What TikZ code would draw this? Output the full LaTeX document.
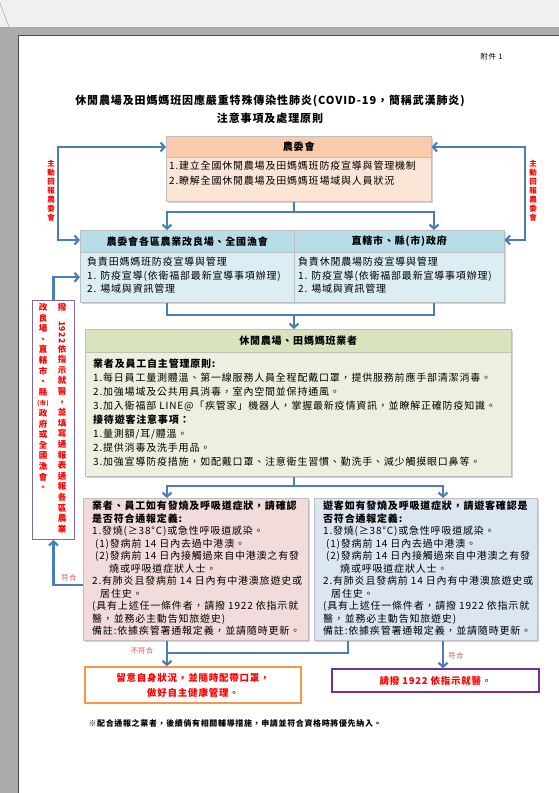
\documentclass[tikz,border=0pt]{standalone}
\usepackage{fontspec}
\setmainfont{Noto Sans CJK TC}[LetterSpace=8]
\usepackage{graphicx}
\usepackage{tikz}
\usetikzlibrary{arrows.meta,positioning,shadows}
\usepackage{xcolor}
\definecolor{flowblue}{HTML}{4A7EBB}
\definecolor{peachhead}{HTML}{F8CBAD}
\definecolor{peachbody}{HTML}{FBE5D6}
\definecolor{bluehead}{HTML}{B7DEE8}
\definecolor{bluebody}{HTML}{DAEEF3}
\definecolor{greenhead}{HTML}{D7E4BD}
\definecolor{greenbody}{HTML}{EBF1DE}
\definecolor{pinkbody}{HTML}{F2DCDB}
\definecolor{skybody}{HTML}{DCE6F2}
\definecolor{alertred}{HTML}{FF0000}
\definecolor{notered}{HTML}{C0504D}
\definecolor{reportedge}{HTML}{7F6A9E}
\definecolor{careedge}{HTML}{F79646}
\definecolor{calledge}{HTML}{7030A0}

\begin{document}
\begin{tikzpicture}[x=1pt, y=-1pt, >={Straight Barb[length=4pt,width=9pt]},
    panel/.style={rectangle, draw=black!25, line width=0.5pt, inner sep=0pt, anchor=north west,
        drop shadow={shadow xshift=1.8pt, shadow yshift=-1.8pt, fill=black!35}},
    band/.style={rectangle, draw=black!25, line width=0.5pt, inner sep=0pt, anchor=north west,
        font=\bfseries\fontsize{10}{12}\selectfont},
    txt/.style={anchor=north west, inner sep=0pt, align=left, font=\fontsize{10}{13.5}\selectfont},
    flow/.style={draw=flowblue, line width=2.2pt},
    vlabel/.style={align=center, inner sep=0pt, text=alertred, font=\bfseries\fontsize{7.5}{9}\selectfont},
    vtext/.style={anchor=north, align=center, inner sep=0pt, text=alertred, font=\bfseries\fontsize{8.5}{10.6}\selectfont},
    outcome/.style={rectangle, line width=1.5pt, fill=white, align=center, inner sep=0pt,
        text=alertred, font=\bfseries\fontsize{9.5}{15}\selectfont},
    cond/.style={inner sep=0pt, text=notered, font=\fontsize{7}{8}\selectfont}]

    \useasboundingbox (0,0) rectangle (559,793);
    \fill[black!6] (0,0) rectangle (559,27);
    \fill[black!33] (0,27) rectangle (559,35);
    \fill[black!33] (0,35) rectangle (18,793);
    \fill[white] (18,35) rectangle (559,793);
    \draw[black!70, line width=0.6pt] (18,793) -- (18,35) -- (559,35);
    \draw[black!35, line width=0.5pt] (0,3) -- (9,27);

    \node[font=\fontsize{7.5}{9}\selectfont, anchor=east] (annex) at (506,57) {附件 1};
    \node[font=\bfseries\fontsize{11}{18}\selectfont, align=center] (title) at (270,109)
        {休閒農場及田媽媽班因應嚴重特殊傳染性肺炎(COVID-19，簡稱武漢肺炎)\\注意事項及處理原則};

    \node[panel, fill=peachbody, minimum width=265, minimum height=65] (coa) at (166,136) {};
    \node[band, fill=peachhead, minimum width=265, minimum height=21] (coahead) at (coa.north west) {農委會};
    \node[txt, font=\fontsize{10}{15}\selectfont] (coatext) at (169,161)
        {1.建立全國休閒農場及田媽媽班防疫宣導與管理機制\\2.瞭解全國休閒農場及田媽媽班場域與人員狀況};

    \node[panel, fill=bluebody, minimum width=214, minimum height=72] (station) at (80,230) {};
    \node[panel, fill=bluebody, minimum width=210, minimum height=72] (gov) at (294,230) {};
    \node[band, fill=bluehead, minimum width=214, minimum height=22] (stationhead) at (station.north west) {農委會各區農業改良場、全國漁會};
    \node[band, fill=bluehead, minimum width=210, minimum height=22] (govhead) at (gov.north west) {直轄市、縣(市)政府};
    \node[txt] (stationtext) at (87,257)
        {負責田媽媽班防疫宣導與管理\\1. 防疫宣導(依衛福部最新宣導事項辦理)\\2. 場域與資訊管理};
    \node[txt] (govtext) at (298,257)
        {負責休閒農場防疫宣導與管理\\1. 防疫宣導(依衛福部最新宣導事項辦理)\\2. 場域與資訊管理};

    \node[panel, fill=greenbody, minimum width=426, minimum height=147] (farm) at (85,329) {};
    \node[band, fill=greenhead, minimum width=426, minimum height=23] (farmhead) at (farm.north west) {休閒農場、田媽媽班業者};
    \node[txt, font=\fontsize{10}{14}\selectfont] (farmtext) at (93,359)
        {\textbf{業者及員工自主管理原則:}\\
         1.每日員工量測體溫、第一線服務人員全程配戴口罩，提供服務前應手部清潔消毒。\\
         2.加強場域及公共用具消毒，室內空間並保持通風。\\
         3.加入衛福部 LINE@「疾管家」機器人，掌握最新疫情資訊，並瞭解正確防疫知識。\\
         \textbf{接待遊客注意事項：}\\
         1.量測額/耳/體溫。\\
         2.提供消毒及洗手用品。\\
         3.加強宣導防疫措施，如配戴口罩、注意衛生習慣、勤洗手、減少觸摸眼口鼻等。};

    \node[panel, fill=pinkbody, minimum width=225, minimum height=142] (staffcase) at (83,498) {};
    \node[txt, font=\fontsize{10}{12.5}\selectfont] (stafftext) at (92,501)
        {\textbf{業者、員工如有發燒及呼吸道症狀，請確認}\\
         \textbf{是否符合通報定義:}\\
         1.發燒(≥38°C)或急性呼吸道感染。\\
         \hspace*{3pt}(1)發病前 14 日內去過中港澳。\\
         \hspace*{3pt}(2)發病前 14 日內接觸過來自中港澳之有發\\
         \hspace*{17pt}燒或呼吸道症狀人士。\\
         2.有肺炎且發病前 14 日內有中港澳旅遊史或\\
         \hspace*{8pt}居住史。\\
         (具有上述任一條件者，請撥 1922 依指示就\\
         醫，並務必主動告知旅遊史)\\
         備註:依據疾管署通報定義，並請隨時更新。};

    \node[panel, fill=skybody, minimum width=223, minimum height=142] (guestcase) at (314,498) {};
    \node[txt, font=\fontsize{10}{12.5}\selectfont] (guesttext) at (323,501)
        {\textbf{遊客如有發燒及呼吸道症狀，請遊客確認是}\\
         \textbf{否符合通報定義:}\\
         1.發燒(≥38°C)或急性呼吸道感染。\\
         \hspace*{3pt}(1)發病前 14 日內去過中港澳。\\
         \hspace*{3pt}(2)發病前 14 日內接觸過來自中港澳之有發\\
         \hspace*{17pt}燒或呼吸道症狀人士。\\
         2.有肺炎且發病前 14 日內有中港澳旅遊史或\\
         \hspace*{8pt}居住史。\\
         (具有上述任一條件者，請撥 1922 依指示就\\
         醫，並務必主動告知旅遊史)\\
         備註:依據疾管署通報定義，並請隨時更新。};

    \node[rectangle, draw=reportedge, line width=1pt, fill=white, minimum width=42, minimum height=239,
        anchor=north west] (report) at (32,300) {};
    \node[vtext] (reportcolR) at (62,303)
        {撥\\\rotatebox{-90}{1922}\\依\\指\\示\\就\\醫\\，\\並\\填\\寫\\通\\報\\表\\通\\報\\各\\區\\農\\業};
    \node[vtext] (reportcolL) at (43,303)
        {改\\良\\場\\、\\直\\轄\\市\\、\\縣\\{\fontsize{6}{7}\selectfont(市)}\\政\\府\\或\\全\\國\\漁\\會\\。};

    \node[vlabel] (reportleft) at (51,191) {主\\動\\回\\報\\農\\委\\會};
    \node[vlabel] (reportright) at (533,191) {主\\動\\回\\報\\農\\委\\會};

    \node[outcome, draw=careedge, minimum width=216, minimum height=36] (selfcare) at (193,685)
        {留意自身狀況，並隨時配帶口罩，\\做好自主健康管理。};
    \node[outcome, draw=calledge, minimum width=207, minimum height=23] (call1922) at (435.5,680.5)
        {請撥 1922 依指示就醫。};

    \node[font=\bfseries\fontsize{8}{10}\selectfont, anchor=west] (footnote) at (85,723)
        {※配合通報之業者，後續倘有相關輔導措施，申請並符合資格時將優先納入。};

    \coordinate (colA) at (167,0);
    \coordinate (colB) at (434,0);
    \coordinate (colC) at (348,0);
    \coordinate (colD) at (443,0);
    \coordinate (j1) at (294,212);
    \coordinate (j2) at (294,315);
    \coordinate (j3) at (294,486);
    \coordinate (merge) at (167,653);
    \coordinate (loopL) at (58,240);
    \coordinate (loopR) at (525,240);

    \draw[flow] (coa.south -| j1) -- (j1);
    \draw[flow,->] (j1) -| (station.north -| colA);
    \draw[flow,->] (j1) -| (gov.north -| colB);
    \draw[flow] (station.south -| colA) |- (j2) -| (gov.south -| colB);
    \draw[flow,->] (j2) -- (farm.north -| j2);
    \draw[flow] (farm.south -| j3) -- (j3);
    \draw[flow,->] (j3) -| (staffcase.north -| colA);
    \draw[flow,->] (j3) -| (guestcase.north -| colD);
    \draw[flow,->] (staffcase.south -| colA) -- (selfcare.north -| colA);
    \draw[flow] (guestcase.south -| colC) |- (merge);
    \draw[flow,->] (guestcase.south -| colD) -- (call1922.north -| colD);
    \draw[flow,->] ([yshift=-16pt]staffcase.west) -| (report.south);
    \draw[flow,->] (report.north) |- ([yshift=-11pt]station.west);
    \draw[flow,<->] ([yshift=-11pt]coa.north west) -| (loopL) -- (station.west |- loopL);
    \draw[flow,<->] ([yshift=-11pt]coa.north east) -| (loopR) -- (gov.east |- loopR);

    \node[cond] (yesleft) at (69,578) {符合};
    \node[cond] (noleft) at (142,651) {不符合};
    \node[cond] (yesright) at (456,656) {符合};
\end{tikzpicture}
\end{document}
